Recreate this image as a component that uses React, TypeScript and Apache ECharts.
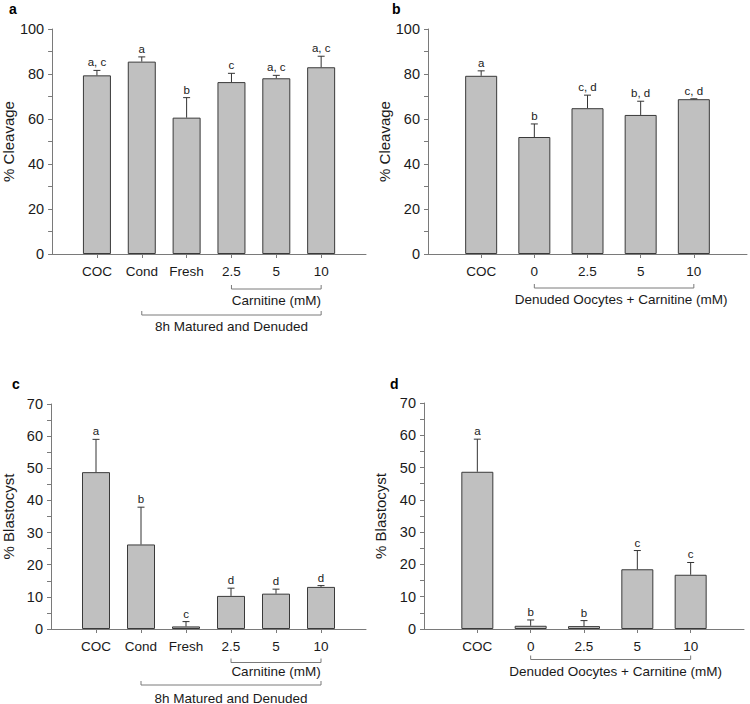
import React, { useEffect, useRef } from "react";
import * as echarts from "echarts";

// ---- Data ----
const catsMatured = ["COC", "Cond", "Fresh", "2.5", "5", "10"];
const catsDenuded = ["COC", "0", "2.5", "5", "10"];

// Panel a: % Cleavage (8h matured and denuded)
const meanA = [79.4, 85.5, 60.6, 76.4, 78.1, 83.0];
const semA = [2.2, 2.1, 8.9, 3.9, 1.3, 4.9];
const sigA = ["a, c", "a", "b", "c", "a, c", "a, c"];

// Panel b: % Cleavage (denuded oocytes + carnitine)
const meanB = [79.2, 52.0, 64.8, 61.8, 68.8];
const semB = [2.2, 5.8, 5.8, 6.1, 0.2];
const sigB = ["a", "b", "c, d", "b, d", "c, d"];

// Panel c: % Blastocyst (8h matured and denuded)
const meanC = [48.8, 26.3, 0.8, 10.3, 11.0, 13.1];
const semC = [10.2, 11.6, 1.5, 2.4, 1.4, 0.4];
const sigC = ["a", "b", "c", "d", "d", "d"];

// Panel d: % Blastocyst (denuded oocytes + carnitine)
const meanD = [48.7, 1.0, 0.9, 18.5, 16.8];
const semD = [10.1, 1.8, 1.7, 5.8, 3.8];
const sigD = ["a", "b", "b", "c", "c"];

const bracketsMatured = [
  { from: "2.5", to: "10", text: "Carnitine (mM)" },
  { from: "Cond", to: "10", text: "8h Matured and Denuded" },
];
const bracketsDenuded = [
  { from: "0", to: "10", text: "Denuded Oocytes + Carnitine (mM)" },
];

const FONT = "'Liberation Sans', Arial, Helvetica, sans-serif";
const AXIS_COLOR = "#7a7a7a";
const INK = "#1a1a1a";

type Panel = {
  letter: string;
  cats: string[];
  mean: number[];
  sem: number[];
  sig: string[];
  yName: string;
  yMax: number;
  labelEvery: number;
  minor: boolean;
  grid: { left: number; top: number; width: number; height: number };
  barWidth: number;
  brackets: { from: string; to: string; text: string }[];
  bracketOff: number[];
  textOff: number[];
  textDx: number;
  nameGap: number;
  letterPos: [number, number];
};

const panels: Panel[] = [
  {
    letter: "a", cats: catsMatured, mean: meanA, sem: semA, sig: sigA,
    yName: "% Cleavage", yMax: 100, labelEvery: 20, minor: false,
    grid: { left: 43, top: 29, width: 323, height: 225 }, barWidth: 28,
    brackets: bracketsMatured, bracketOff: [35, 61], textOff: [46, 72], textDx: 0,
    nameGap: 32, letterPos: [9, 2],
  },
  {
    letter: "b", cats: catsDenuded, mean: meanB, sem: semB, sig: sigB,
    yName: "% Cleavage", yMax: 100, labelEvery: 20, minor: false,
    grid: { left: 428, top: 29, width: 320, height: 225 }, barWidth: 32,
    brackets: bracketsDenuded, bracketOff: [34], textOff: [45.5], textDx: 7,
    nameGap: 33, letterPos: [392, 2],
  },
  {
    letter: "c", cats: catsMatured, mean: meanC, sem: semC, sig: sigC,
    yName: "% Blastocyst", yMax: 70, labelEvery: 10, minor: true,
    grid: { left: 44, top: 404, width: 322, height: 225 }, barWidth: 28,
    brackets: bracketsMatured, bracketOff: [33.5, 56], textOff: [42.5, 69], textDx: 0,
    nameGap: 35, letterPos: [12, 377],
  },
  {
    letter: "d", cats: catsDenuded, mean: meanD, sem: semD, sig: sigD,
    yName: "% Blastocyst", yMax: 70, labelEvery: 10, minor: true,
    grid: { left: 424, top: 403, width: 320, height: 226 }, barWidth: 32,
    brackets: bracketsDenuded, bracketOff: [30.5], textOff: [42], textDx: 5,
    nameGap: 36, letterPos: [390, 377],
  },
];

function buildOption() {
  const grid: any[] = [];
  const xAxis: any[] = [];
  const yAxis: any[] = [];
  const series: any[] = [];
  const graphic: any[] = [];

  panels.forEach((p, pi) => {
    const padded = ["", ...p.cats, ""];
    const n = p.cats.length;
    grid.push({ ...p.grid, containLabel: false });
    xAxis.push({
      type: "category",
      gridIndex: pi,
      data: padded,
      boundaryGap: false,
      axisLine: { lineStyle: { color: AXIS_COLOR, width: 1 } },
      axisTick: {
        show: true,
        length: 4,
        lineStyle: { color: AXIS_COLOR },
        interval: (idx: number) => idx > 0 && idx < n + 1,
      },
      axisLabel: {
        interval: 0,
        margin: 10,
        color: INK,
        fontFamily: FONT,
        fontSize: 13.5,
      },
      splitLine: { show: false },
    });
    yAxis.push({
      type: "value",
      gridIndex: pi,
      min: 0,
      max: p.yMax,
      interval: 10,
      name: p.yName,
      nameLocation: "middle",
      nameRotate: 90,
      nameGap: p.nameGap,
      nameTextStyle: { color: INK, fontFamily: FONT, fontSize: 15, verticalAlign: "bottom" },
      axisLine: { show: true, lineStyle: { color: AXIS_COLOR, width: 1 } },
      axisTick: { show: true, length: 4, lineStyle: { color: AXIS_COLOR } },
      minorTick: p.minor
        ? { show: true, splitNumber: 2, length: 4, lineStyle: { color: AXIS_COLOR } }
        : { show: false },
      axisLabel: {
        margin: 8,
        color: INK,
        fontFamily: FONT,
        fontSize: 14.5,
        formatter: (v: number) => (v % p.labelEvery === 0 ? String(v) : ""),
      },
      splitLine: { show: false },
      minorSplitLine: { show: false },
    });

    series.push({
      type: "bar",
      xAxisIndex: pi,
      yAxisIndex: pi,
      barWidth: p.barWidth,
      data: ["-", ...p.mean, "-"],
      itemStyle: { color: "#c0c0c0", borderColor: "#3a3a3a", borderWidth: 1 },
      silent: true,
    });

    series.push({
      type: "custom",
      xAxisIndex: pi,
      yAxisIndex: pi,
      silent: true,
      clip: false,
      z: 5,
      data: p.mean.map((m, i) => [i + 1, m, m + p.sem[i]]),
      renderItem: (params: any, api: any) => {
        const x = api.value(0);
        const base = api.coord([x, api.value(1)]);
        const top = api.coord([x, api.value(2)]);
        const label = p.sig[params.dataIndex];
        return {
          type: "group",
          children: [
            {
              type: "line",
              shape: { x1: base[0], y1: base[1], x2: top[0], y2: top[1] },
              style: { stroke: "#333", lineWidth: 1 },
            },
            {
              type: "line",
              shape: { x1: top[0] - 3.5, y1: top[1], x2: top[0] + 3.5, y2: top[1] },
              style: { stroke: "#333", lineWidth: 1 },
            },
            {
              type: "text",
              x: top[0],
              y: top[1] - 2,
              style: {
                text: label,
                fill: "#1a1a1a",
                fontSize: 11.5,
                fontFamily: FONT,
                align: "center",
                verticalAlign: "bottom",
              },
            },
          ],
        };
      },
    });

    series.push({
      type: "custom",
      xAxisIndex: pi,
      yAxisIndex: pi,
      silent: true,
      clip: false,
      z: 5,
      data: p.brackets.map((b, bi) => [padded.indexOf(b.from), padded.indexOf(b.to), bi]),
      renderItem: (params: any, api: any) => {
        const b = p.brackets[params.dataIndex];
        const bi = params.dataIndex;
        const p1 = api.coord([api.value(0), 0]);
        const p2 = api.coord([api.value(1), 0]);
        const y = p1[1] + p.bracketOff[bi];
        const mid = (p1[0] + p2[0]) / 2 + p.textDx;
        return {
          type: "group",
          children: [
            {
              type: "polyline",
              shape: { points: [[p1[0], y - 4], [p1[0], y], [p2[0], y], [p2[0], y - 4]] },
              style: { stroke: AXIS_COLOR, lineWidth: 1, fill: "none" },
            },
            {
              type: "text",
              x: mid,
              y: p1[1] + p.textOff[bi],
              style: {
                text: b.text,
                fill: INK,
                fontSize: 13.5,
                fontFamily: FONT,
                align: "center",
                verticalAlign: "middle",
              },
            },
          ],
        };
      },
    });

    graphic.push({
      type: "text",
      left: p.letterPos[0],
      top: p.letterPos[1],
      style: { text: p.letter, fill: "#000", font: `bold 14px ${FONT}` },
    });
  });

  return {
    animation: false,
    backgroundColor: "#ffffff",
    grid,
    xAxis,
    yAxis,
    series,
    graphic,
  };
}

export default function App() {
  const ref = useRef<HTMLDivElement>(null);
  useEffect(() => {
    if (!ref.current) return;
    const chart = echarts.init(ref.current, undefined, { renderer: "svg" });
    chart.setOption(buildOption() as any);
    return () => chart.dispose();
  }, []);
  return (
    <div
      ref={ref}
      style={{ position: "fixed", left: 0, top: 0, width: 750, height: 704, background: "#fff" }}
    />
  );
}
